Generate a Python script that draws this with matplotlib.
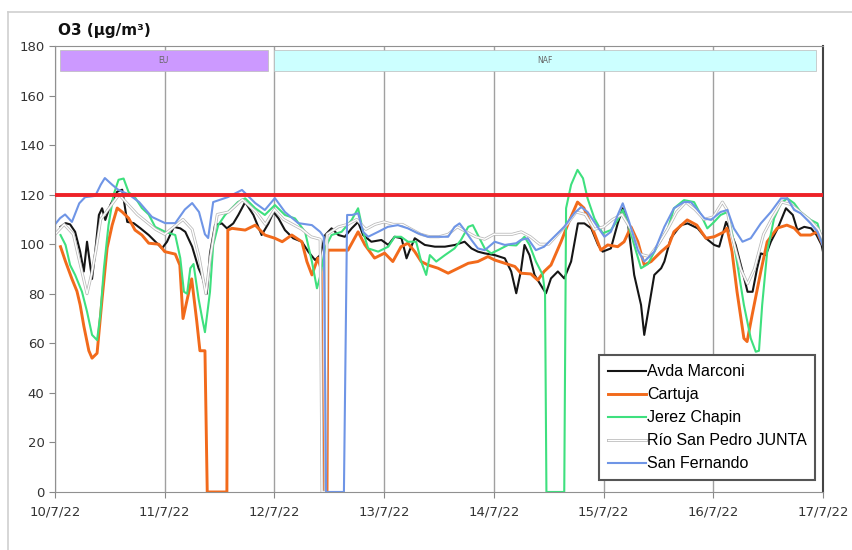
import matplotlib
matplotlib.use('Agg')
import matplotlib.pyplot as plt
import matplotlib.patheffects as pe
from matplotlib.lines import Line2D

# x values are hours since 10/7/22 00:00
day_labels = ['10/7/22', '11/7/22', '12/7/22', '13/7/22', '14/7/22',
              '15/7/22', '16/7/22', '17/7/22']
y_ticks = [0, 20, 40, 60, 80, 100, 120, 140, 160, 180]
limit_value = 120

band_names = ['EU', 'NAF']
band_start = [1.0, 48.0]
band_end = [46.5, 166.5]
band_colors = ['#cc99ff', '#ccffff']

marconi_h = [1.2, 2.3, 3.3, 4.4, 5.5, 6.3, 7.0, 7.7, 8.1, 8.8, 9.6, 10.3, 11.0, 12.1, 13.6, 14.7,
             15.8, 17.2, 18.7, 20.5, 22.3, 23.4, 24.5, 26.0, 27.4, 28.5, 30.0, 31.4, 32.2, 32.9,
             33.2, 33.9, 35.0, 36.5, 37.6, 39.0, 40.1, 41.6, 43.4, 45.2, 46.7, 47.8, 48.9, 50.3,
             52.1, 54.0, 55.4, 56.9, 58.0, 59.1, 60.5, 62.0, 63.4, 64.9, 66.3, 67.4, 69.2, 71.4,
             72.9, 74.3, 75.8, 76.9, 77.6, 78.7, 80.9, 83.1, 85.3, 87.5, 89.6, 91.1, 92.5, 94.0,
             96.2, 98.4, 99.8, 100.9, 101.9, 102.7, 103.8, 104.9, 106.7, 107.4, 108.5, 110.0,
             111.4, 112.9, 114.4, 115.8, 117.3, 118.8, 119.8, 121.6, 123.1, 124.2, 125.3, 126.7,
             128.2, 128.9, 130.0, 131.1, 132.6, 133.3, 134.7, 136.9, 138.4, 140.6, 142.4, 144.2,
             145.3, 146.8, 147.8, 148.9, 150.4, 151.5, 152.6, 153.6, 154.4, 155.5, 156.6, 158.1,
             159.9, 161.4, 162.4, 163.9, 165.4, 166.6, 167.7, 168.0]
marconi_v = [107, 108.5, 108, 105, 97, 89, 101, 91.6, 86, 97, 111.8, 114.5, 109.8, 115.8, 121.2, 122,
             109, 108.5, 106.4, 103.7, 100.4, 98.3, 101, 107, 106.4, 105, 99, 90.3, 87, 82,
             80, 96.3, 107.7, 108.4, 106.4, 108.4, 111.8, 117, 111.8, 103.7, 108.4, 113, 110.4, 105.7,
             102.4, 101, 97, 93.6, 95.6, 103.7, 106.4, 103.7, 103, 106.4, 109, 103.7, 101, 101.7,
             99.7, 103, 102.4, 94.3, 97.6, 102.4, 99.7, 99, 99, 99.7, 101, 98.3, 97, 96.3,
             95.6, 94.3, 89, 80.2, 89, 99.7, 95.6, 87.6, 82.2, 80.2, 86.2, 89,
             86.2, 93, 108.4, 108.4, 106.4, 99.7, 97, 98.3, 108.4, 114.5, 109, 87.6,
             75.5, 63.4, 75.5, 87.6, 90.3, 93, 102.4, 107.7, 108.4, 106.4, 102.4, 99.7,
             99, 109, 105, 99.7, 89, 80.8, 80.8, 90.3, 96.3, 95.6, 101, 106.4,
             114.5, 111.8, 105.7, 107, 106.4, 103.7, 99.7, 97]

cartuja_h = [1.2, 2.3, 3.7, 4.8, 5.5, 6.3, 7.4, 8.1, 9.2, 10.3, 11.4, 12.5, 13.6, 14.7, 16.1, 17.5,
             19.0, 20.5, 22.7, 24.0, 26.3, 27.3, 28.0, 29.9, 31.0, 31.7, 32.8, 33.3, 37.6, 37.8,
             38.7, 41.6, 43.8, 45.9, 48.1, 49.7, 51.8, 54.0, 55.1, 56.2, 57.5, 58.2, 58.6, 59.5,
             59.7, 61.9, 64.1, 66.3, 67.8, 69.9, 72.1, 73.9, 75.7, 77.2, 78.7, 80.1, 81.6, 83.8,
             86.0, 88.2, 90.4, 92.5, 94.7, 96.2, 98.4, 100.6, 101.9, 104.1, 105.6, 107.0, 108.5,
             110.7, 112.4, 114.3, 115.7, 117.3, 118.7, 119.4, 120.9, 123.1, 124.5, 126.0, 127.5,
             128.9, 130.4, 132.6, 134.3, 135.4, 138.3, 140.4, 142.4, 144.2, 146.4, 147.0, 148.1,
             149.2, 150.7, 151.4, 152.5, 154.4, 155.8, 158.0, 160.1, 161.7, 163.1, 165.3, 166.7,
             167.8]
cartuja_v = [99, 93, 86, 81, 75.5, 67, 57, 54, 56, 78, 98.5, 107.7, 114.6, 113, 110.5, 105.7,
             103.7, 100.4, 100, 97, 96, 91.6, 70, 86, 69, 57, 57, 0, 0, 105.7,
             106.4, 105.7, 107.7, 103.7, 102.4, 101, 103.7, 101, 93, 87.6, 94.4, 90, 0, 0,
             97.6, 97.6, 97.6, 105, 99.7, 94.4, 96.4, 93, 99, 100.4, 97, 93, 91.6, 90.3,
             88.3, 90.3, 92.3, 93, 95, 93.6, 92.3, 91, 88.3, 88, 85.5, 89, 91.6,
             101, 109, 117, 114.6, 107.7, 101, 97.6, 99.7, 99, 101, 107, 101,
             91.6, 93, 97, 99.7, 105, 109.8, 107.7, 102.4, 103, 105, 106.5, 97,
             80.8, 62, 60.7, 71.4, 89, 101, 106.5, 107.7, 106.5, 103.7, 103.7, 105,
             100.4]

jerez_h = [1.2, 2.3, 3.3, 4.4, 5.9, 7.0, 8.1, 9.2, 9.9, 10.7, 11.7, 12.8, 13.9, 15.0, 16.1, 17.6,
           19.0, 20.5, 21.9, 24.1, 26.3, 27.4, 28.2, 28.9, 29.6, 30.3, 31.4, 32.2, 32.8, 33.9,
           34.6, 35.7, 37.2, 40.0, 41.6, 43.8, 45.9, 48.1, 50.3, 52.5, 54.7, 56.2, 57.3, 58.0,
           59.1, 60.5, 62.7, 64.9, 66.3, 67.4, 68.5, 70.7, 72.9, 74.3, 75.7, 77.2, 79.0, 80.1,
           81.2, 82.0, 83.4, 85.3, 87.4, 88.8, 90.4, 91.4, 92.5, 94.0, 95.4, 96.9, 99.1, 100.9,
           102.7, 103.8, 105.2, 106.7, 107.2, 107.5, 111.4, 111.8, 112.9, 114.3, 115.5, 116.5,
           118.0, 119.8, 121.6, 123.1, 124.2, 125.3, 126.7, 128.2, 129.7, 131.9, 134.1, 135.4,
           137.6, 139.8, 141.3, 142.7, 144.2, 145.6, 147.1, 148.2, 149.3, 150.7, 152.2, 153.3,
           154.0, 154.7, 155.8, 157.3, 158.8, 160.2, 161.7, 163.1, 165.3, 166.8, 167.9]
jerez_v = [103.7, 99.7, 91.6, 87.6, 80.8, 72.8, 63.4, 61.3, 71.4, 90.3, 107.7, 119.9, 126, 126.5, 121, 118.6,
           114.6, 112, 107, 105, 103.7, 94.4, 80.8, 80, 90.3, 92, 78, 70, 64.5, 80.8,
           99.7, 107.7, 111.8, 117, 118.5, 114.5, 111.8, 115.8, 111.8, 110.4, 105, 93, 82.2, 87,
           98.5, 103.7, 105, 109.8, 114.5, 105, 98.3, 97, 99, 103, 103, 101, 101, 93,
           87.6, 95.6, 93, 95.6, 98.3, 101.7, 107, 107.7, 103.7, 98.3, 96.3, 97.6, 99.7, 99.5,
           103, 99.7, 93, 87.6, 80, 0, 0, 114.5, 124, 130, 126.6, 118.5,
           110.4, 104.4, 105.7, 109.8, 113.8, 108.5, 99.7, 90.3, 92, 99.7, 106.4, 114.5,
           117.8, 117, 111.8, 106.4, 109, 111.8, 113, 103.7, 91.6, 75.5, 62, 56.6,
           57, 75.5, 97, 110.4, 116.5, 118.5, 116.5, 113, 109.8, 108.4, 101]

rio_h = [0, 2, 4, 6, 7, 8, 9, 10, 12, 14, 16, 18, 20, 22, 24, 26, 28, 30, 31.5, 33, 34, 35.5,
         38, 41, 44, 46, 48, 50, 52, 54, 56, 58, 58.4, 59.2, 59.5, 62, 64, 66, 68, 70, 72, 74,
         76, 78, 80, 82, 84, 86, 88, 90, 92, 94, 96, 98, 100, 102, 104, 106, 108, 110, 112,
         114, 116, 118, 120, 122, 124, 126, 128, 130, 132, 134, 136, 138, 140, 142, 144, 146,
         147, 148, 150, 151.5, 153, 155, 157, 159, 161, 163, 165, 167, 168]
rio_v = [104, 108, 104, 88, 80, 88, 98, 110, 115, 120, 116, 112, 109, 106, 104, 107, 110, 106, 95, 80, 95, 112,
         113, 118, 113, 108, 114, 110, 108, 106, 103, 102, 0, 0, 104, 107, 108, 110, 106, 108, 109, 108,
         108, 106, 104, 103, 103, 104, 107, 105, 103, 102, 104, 104, 104, 105, 103, 100, 100, 104, 108,
         113, 112, 106, 107, 110, 112, 106, 96, 95, 100, 106, 113, 117, 114, 110, 111, 117,
         114, 104, 90, 84, 90, 104, 111, 117, 116, 113, 110, 106, 102]

sanfer_h = [0, 1.1, 2.2, 3.7, 5.3, 6.6, 8.8, 10.0, 10.9, 12.5, 13.8, 16.2, 18.4, 21.2, 24.1, 26.3,
            28.4, 30.0, 31.5, 32.8, 33.5, 34.6, 37.8, 40.9, 43.8, 45.9, 48.1, 50.3, 53.2, 56.2,
            58.0, 58.8, 59.3, 63.2, 63.9, 65.0, 66.3, 67.4, 68.5, 70.7, 72.8, 75.0, 77.2, 79.4,
            81.6, 83.8, 86.0, 87.4, 88.5, 89.6, 91.1, 92.5, 94.0, 96.2, 98.4, 100.9, 101.9, 103.4,
            105.2, 107.0, 109.2, 111.4, 113.6, 115.1, 116.5, 118.7, 120.2, 121.6, 123.1, 124.2,
            125.6, 127.5, 128.9, 131.1, 133.3, 135.4, 137.6, 139.1, 140.6, 142.1, 143.5, 145.6,
            147.1, 148.5, 150.4, 152.2, 154.4, 156.6, 158.8, 160.2, 161.7, 163.1, 165.3, 166.8,
            167.9]
sanfer_v = [108, 110.5, 112, 109, 116.5, 119, 119.5, 124, 126.7, 124, 122, 120, 117, 111, 108.5, 108.5,
            114, 116.6, 113, 104, 102.5, 117, 119, 121.9, 116.6, 113.8, 118.6, 113, 108.5, 107.7,
            105, 103, 0, 0, 111.8, 111.8, 112.5, 105, 103, 105, 107, 107.7, 106.4, 104.4,
            103, 103, 103, 107, 108.4, 105.7, 101.7, 98.3, 97.6, 101, 99.7, 100.4, 101.7, 102.4,
            97.6, 99, 103, 107, 112.5, 115, 113, 107, 103, 105, 111.8, 116.5,
            109, 97.6, 93, 97, 107, 114.5, 117, 117, 113.8, 110.4, 109.8, 113,
            113.8, 106.4, 101, 102.4, 108.4, 113, 118.5, 118.5, 113.8, 112.5, 108.4, 105,
            99.7]

fig = plt.figure(figsize=(8.53, 5.5), dpi=100)
ax = fig.add_axes([0.0645, 0.1055, 0.9003, 0.8109])

# outer chart frame (Excel style)
fig.add_artist(Line2D([8 / 853, 1.0], [1 - 12 / 550, 1 - 12 / 550], color='#cfcfcf', lw=1.2))
fig.add_artist(Line2D([8 / 853, 8 / 853], [0.0, 1 - 12 / 550], color='#cfcfcf', lw=1.2))

ax.plot(marconi_h, marconi_v, color='#151515', lw=1.5, label='Avda Marconi')
ax.plot(cartuja_h, cartuja_v, color='#f26a1b', lw=2.1, label='Cartuja')
ax.plot(jerez_h, jerez_v, color='#3ee07e', lw=1.5, label='Jerez Chapin')
ax.plot(rio_h, rio_v, color='white', lw=1.0, label='Río San Pedro JUNTA',
        path_effects=[pe.Stroke(linewidth=2.1, foreground='#b8b8b8'), pe.Normal()])
ax.plot(sanfer_h, sanfer_v, color='#6f95e6', lw=1.5, label='San Fernando')

ax.axhline(limit_value, color='#ee2228', lw=2.8, zorder=5)

for name, x0, x1, col in zip(band_names, band_start, band_end, band_colors):
    ax.fill_between([x0, x1], 170, 178.4, color=col, edgecolor='#bbbbbb', lw=0.5, zorder=4)
    ax.text((x0 + x1) / 2, 174.2, name, ha='center', va='center', fontsize=5.5,
            color='#666666', zorder=6)

ax.set_xlim(0, 168)
ax.set_ylim(0, 180)
ax.set_xticks([24 * i for i in range(len(day_labels))])
ax.set_xticklabels(day_labels)
ax.set_yticks(y_ticks)
ax.grid(axis='x', color='#a0a0a0', lw=1.0)
ax.set_axisbelow(True)
ax.tick_params(axis='both', labelsize=9.5, labelcolor='#333333', color='#888888',
               length=4, direction='out')
ax.tick_params(axis='x', pad=6)
for side in ['left', 'bottom', 'top']:
    ax.spines[side].set_color('#909090')
ax.spines['right'].set_color('#444444')
ax.spines['right'].set_linewidth(1.5)

fig.text(58 / 853, 1 - 30 / 550, 'O3 (µg/m³)', fontsize=11, fontweight='bold',
         va='center', ha='left', color='#111111')

leg = ax.legend(loc='lower right', bbox_to_anchor=(0.99, 0.027), fancybox=False,
                framealpha=1, edgecolor='#555555', handlelength=2.4, handletextpad=0.05,
                labelspacing=0.5, borderpad=0.55, borderaxespad=0,
                prop={'family': 'Liberation Sans', 'size': 11.5})
leg.get_frame().set_linewidth(1.5)

plt.savefig('out.png', dpi=100)
